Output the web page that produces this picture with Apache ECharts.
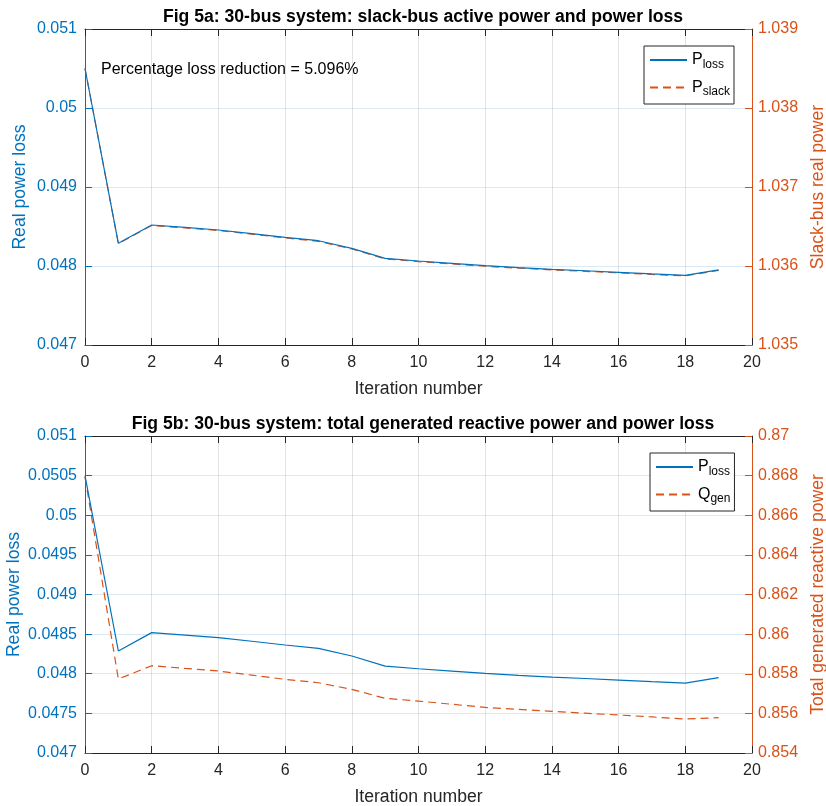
<!DOCTYPE html>
<html>
<head>
<meta charset="utf-8">
<script src="https://cdn.jsdelivr.net/npm/echarts@6/dist/echarts.min.js"></script>
<style>
html, body { margin: 0; background: #fff; }
#chart { width: 826px; height: 806px; }
</style>
</head>
<body>
<div id="chart"></div>
<script>
// data
const iterations = [0, 1, 2, 3, 4, 5, 6, 7, 8, 9, 10, 11, 12, 13, 14, 15, 16, 17, 18, 19]
const pLoss = [0.05050, 0.048287, 0.048519, 0.048488, 0.048456, 0.048410, 0.048363, 0.048320, 0.048224, 0.048097,
	0.048063, 0.048033, 0.048004, 0.047980, 0.047958, 0.047940, 0.047920, 0.047900, 0.047882, 0.047950]
const pSlack = [1.03850, 1.036285, 1.036512, 1.036482, 1.036449, 1.036403, 1.036356, 1.036312, 1.036216, 1.036090,
	1.036056, 1.036026, 1.035997, 1.035973, 1.035951, 1.035933, 1.035913, 1.035893, 1.035875, 1.035945]
const qGen = [0.86793, 0.857735, 0.858407, 0.858270, 0.858139, 0.857930, 0.857718, 0.857547, 0.857211, 0.856757,
	0.856621, 0.856460, 0.856300, 0.856200, 0.856100, 0.856010, 0.855918, 0.855820, 0.855716, 0.855783]

const blue = '#0072BD'
const orange = '#D95319'
const dark = '#262626'
const font = 'Liberation Sans, Arial, Helvetica, sans-serif'

const pairs = (ys) => iterations.map((x, i) => [x, ys[i]])
const fmt = (v) => String(+v.toFixed(5))

function bottomX(grid) {
	return {
		gridIndex: grid, type: 'value', min: 0, max: 20, interval: 2, position: 'bottom',
		name: 'Iteration number', nameLocation: 'middle', nameGap: 35,
		nameTextStyle: { fontFamily: font, fontSize: 17.6, color: dark },
		axisLine: { onZero: false, lineStyle: { color: dark, width: 1 } },
		axisTick: { inside: true, length: 7, lineStyle: { color: dark } },
		axisLabel: { margin: 10, fontFamily: font, fontSize: 16, color: dark },
		splitLine: { show: true, lineStyle: { color: 'rgba(38,38,38,0.13)', width: 1 } }
	}
}
function topX(grid) {
	return {
		gridIndex: grid, type: 'value', min: 0, max: 20, interval: 2, position: 'top',
		axisLine: { onZero: false, lineStyle: { color: dark, width: 1 } },
		axisTick: { inside: true, length: 7, lineStyle: { color: dark } },
		axisLabel: { show: false },
		splitLine: { show: false }
	}
}
function yAx(grid, side, min, max, interval, name, color, gap) {
	return {
		gridIndex: grid, type: 'value', position: side, min: min, max: max, interval: interval,
		name: name, nameLocation: 'middle', nameGap: gap, nameMoveOverlap: false,
		nameTextStyle: { fontFamily: font, fontSize: 17.6, color: color },
		axisLine: { show: true, onZero: false, lineStyle: { color: color, width: 1 } },
		axisTick: { show: true, inside: true, length: 7, lineStyle: { color: color } },
		axisLabel: { margin: side === 'left' ? 8 : 6, fontFamily: font, fontSize: 16, color: color, formatter: fmt },
		splitLine: { show: side === 'left', lineStyle: { color: 'rgba(0,114,189,0.15)', width: 1 } }
	}
}

const legendNames = { 'Ploss': '{m|P}{s|loss}', 'Pslack': '{m|P}{s|slack}', 'Qgen': '{m|Q}{s|gen}' }
function legend(names, left, top) {
	return {
		data: names, orient: 'vertical', left: left, top: top,
		backgroundColor: '#fff', borderColor: dark, borderWidth: 1,
		padding: [6, 4, 6, 5], itemGap: 9, itemWidth: 37, itemHeight: 4,
		itemStyle: { color: 'rgba(0,0,0,0)', borderWidth: 0, opacity: 0 },
		formatter: (n) => legendNames[n],
		textStyle: {
			color: '#000',
			rich: {
				m: { fontFamily: font, fontSize: 16, color: '#000' },
				s: { fontFamily: font, fontSize: 12, color: '#000', padding: [9, 0, 0, 0] }
			}
		}
	}
}

function line(name, x, y, data, color, dashed, z) {
	return {
		name: name, type: 'line', xAxisIndex: x, yAxisIndex: y, data: data,
		symbol: 'none', z: z, animation: false,
		lineStyle: { color: color, width: 1.2, type: dashed ? [8, 5] : 'solid' },
		itemStyle: { color: color }
	}
}

const myChart = echarts.init(document.getElementById('chart'), null, { renderer: 'canvas' })
const option = {
	backgroundColor: '#fff',
	animation: false,
	title: [
		{ text: 'Fig 5a: 30-bus system: slack-bus active power and power loss', left: 418, top: 3, textAlign: 'center',
			textStyle: { fontFamily: font, fontSize: 17.6, fontWeight: 'bold', color: '#000' } },
		{ text: 'Fig 5b: 30-bus system: total generated reactive power and power loss', left: 418, top: 410, textAlign: 'center',
			textStyle: { fontFamily: font, fontSize: 17.6, fontWeight: 'bold', color: '#000' } }
	],
	grid: [
		{ left: 85, top: 29, width: 667, height: 316, outerBoundsMode: 'none', containLabel: false },
		{ left: 85, top: 436, width: 667, height: 317, outerBoundsMode: 'none', containLabel: false }
	],
	xAxis: [bottomX(0), topX(0), bottomX(1), topX(1)],
	yAxis: [
		yAx(0, 'left', 0.047, 0.051, 0.001, 'Real power loss', blue, 56),
		yAx(0, 'right', 1.035, 1.039, 0.001, 'Slack-bus real power', orange, 57),
		yAx(1, 'left', 0.047, 0.051, 0.0005, 'Real power loss', blue, 62),
		yAx(1, 'right', 0.854, 0.87, 0.002, 'Total generated reactive power', orange, 57)
	],
	legend: [legend(['Ploss', 'Pslack'], 644, 46), legend(['Ploss', 'Qgen'], 650, 453)],
	graphic: [
		{ type: 'text', left: 101, top: 62, style: { text: 'Percentage loss reduction = 5.096%', font: '16px ' + font, fill: '#000' } }
	],
	series: [
		line('Ploss', 0, 0, pairs(pLoss), blue, false, 3),
		line('Pslack', 0, 1, pairs(pSlack), orange, true, 2),
		line('Ploss', 2, 2, pairs(pLoss), blue, false, 3),
		line('Qgen', 2, 3, pairs(qGen), orange, true, 2)
	]
}
myChart.setOption(option)
</script>
</body>
</html>
